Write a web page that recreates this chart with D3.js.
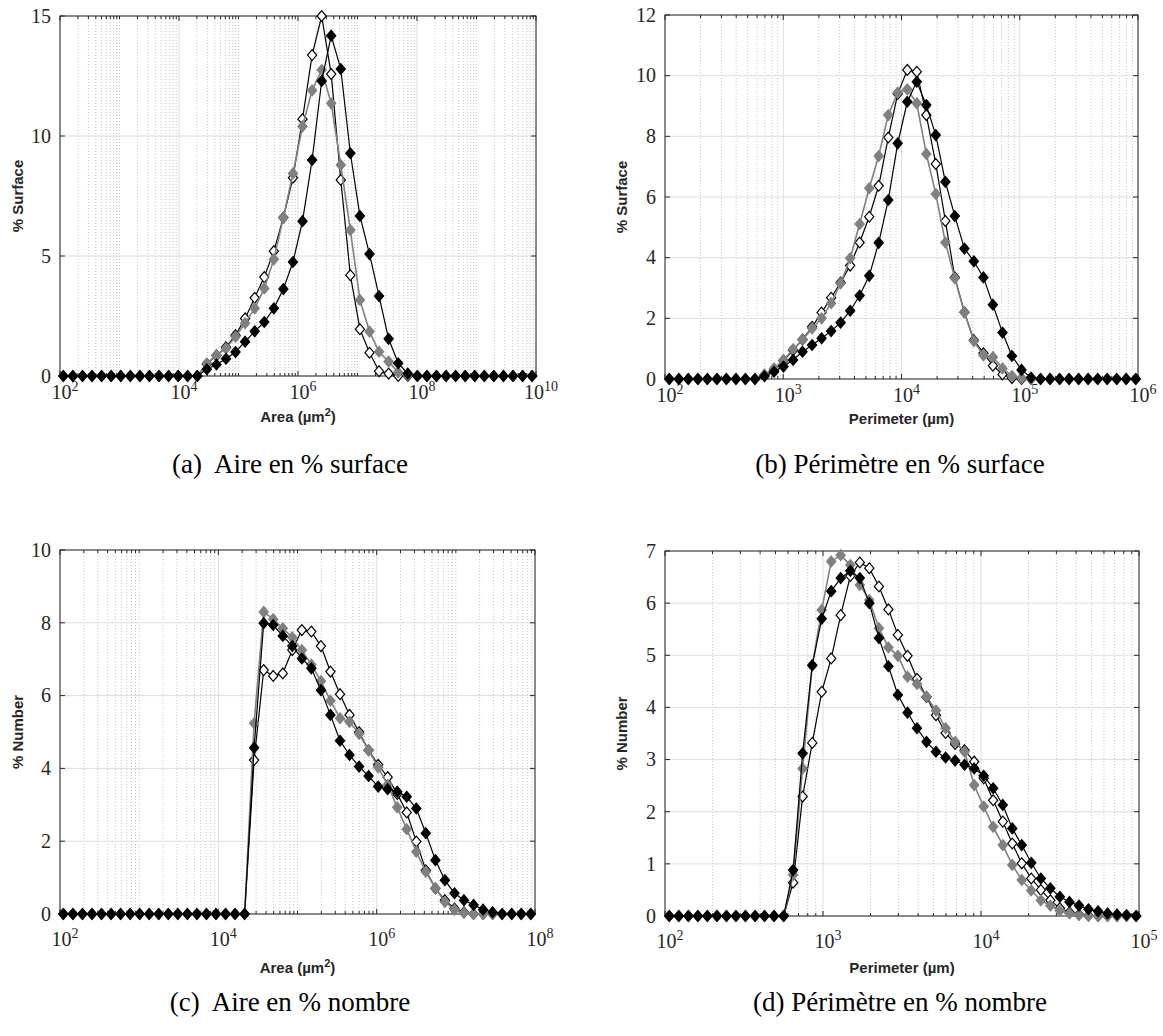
<!DOCTYPE html>
<html><head><meta charset="utf-8">
<script src="https://cdn.jsdelivr.net/npm/d3@7"></script>
<style>body{margin:0;background:#fff}</style>
</head><body>
<svg id="chart" width="1163" height="1036"></svg>
<script>
// ---------- DATA (bin centres as log10 exponents, values in %) ----------
const areaSurfBins = [2.056,2.217,2.378,2.538,2.699,2.860,3.021,3.182,3.342,3.503,3.664,3.825,3.986,4.146,4.307,4.468,4.629,4.790,4.950,5.111,5.272,5.433,5.594,5.754,5.915,6.076,6.237,6.398,6.558,6.719,6.880,7.041,7.202,7.362,7.523,7.684,7.845,8.006,8.166,8.327,8.488,8.649,8.810,8.970,9.131,9.292,9.453,9.614,9.774,9.935];
const areaSurfBlack = [0,0,0,0,0,0,0,0,0,0, 0,0,0,0,0,0.28,0.48,0.72,1.0,1.43, 1.86,2.25,2.82,3.62,4.75,6.45,9.0,12.29,14.18,12.79, 9.28,6.67,5.08,3.33,1.55,0.53,0.1,0,0,0, 0,0,0,0,0,0,0,0,0,0];
const areaSurfOpen  = [0,0,0,0,0,0,0,0,0,0, 0,0,0,0,0,0.5,0.85,1.2,1.7,2.4, 3.26,4.12,5.2,6.6,8.26,10.7,13.37,15.0,12.58,8.17, 4.2,1.95,0.97,0.2,0.1,0,0,0,0,0, 0,0,0,0,0,0,0,0,0,0];
const areaSurfGrey  = [0,0,0,0,0,0,0,0,0,0, 0,0,0,0,0,0.53,0.87,1.15,1.64,2.2, 2.82,3.65,4.86,6.6,8.44,10.4,11.9,12.75,11.36,8.79, 6.08,3.17,1.85,1.01,0.6,0.15,0.03,0,0,0, 0,0,0,0,0,0,0,0,0,0];

const periSurfBins = [2.036,2.117,2.197,2.278,2.358,2.439,2.519,2.600,2.680,2.761,2.841,2.922,3.002,3.083,3.163,3.244,3.324,3.405,3.485,3.566,3.646,3.727,3.807,3.888,3.968,4.049,4.129,4.210,4.290,4.371,4.451,4.532,4.612,4.693,4.773,4.854,4.934,5.015,5.095,5.176,5.256,5.337,5.417,5.498,5.578,5.659,5.739,5.820,5.900,5.981];
const periSurfBlack = [0,0,0,0,0,0,0,0,0,0, 0.09,0.24,0.41,0.63,0.9,1.12,1.34,1.58,1.86,2.25, 2.75,3.4,4.49,5.9,7.77,9.14,9.8,9.03,8.04,6.5, 5.37,4.3,3.88,3.35,2.45,1.53,0.76,0.3,0.05,0, 0,0,0,0,0,0,0,0,0,0];
const periSurfOpen  = [0,0,0,0,0,0,0,0,0,0, 0.12,0.3,0.6,0.95,1.3,1.72,2.19,2.68,3.18,3.74, 4.5,5.35,6.37,7.96,9.4,10.19,10.13,8.7,7.09,5.21, 3.35,2.2,1.28,0.85,0.44,0.15,0.03,0,0,0, 0,0,0,0,0,0,0,0,0,0];
const periSurfGrey  = [0,0,0,0,0,0,0,0,0,0, 0.15,0.35,0.63,0.98,1.29,1.67,2.0,2.5,3.15,3.98, 5.11,6.29,7.35,8.7,9.44,9.55,9.09,7.42,6.1,4.5, 3.32,2.2,1.25,0.78,0.72,0.35,0.1,0.03,0,0, 0,0,0,0,0,0,0,0,0,0];

const areaNumBins = [2.042,2.163,2.283,2.404,2.524,2.645,2.765,2.886,3.006,3.127,3.247,3.368,3.488,3.609,3.729,3.850,3.970,4.091,4.211,4.332,4.452,4.573,4.693,4.814,4.934,5.055,5.175,5.296,5.416,5.537,5.657,5.778,5.898,6.019,6.139,6.260,6.380,6.501,6.621,6.742,6.862,6.983,7.103,7.224,7.344,7.465,7.585,7.706,7.826,7.947];
const areaNumBlack = [0,0,0,0,0,0,0,0,0,0, 0,0,0,0,0,0,0,0,0,0, 4.57,7.99,7.94,7.64,7.36,7.02,6.75,6.15,5.47,4.76, 4.37,4.05,3.79,3.5,3.43,3.36,3.22,2.9,2.22,1.48, 0.93,0.57,0.38,0.25,0.12,0.05,0,0,0,0];
const areaNumOpen  = [0,0,0,0,0,0,0,0,0,0, 0,0,0,0,0,0,0,0,0,0, 4.23,6.7,6.54,6.61,7.25,7.8,7.76,7.36,6.66,6.04, 5.47,5.0,4.5,4.1,3.76,3.3,2.79,1.99,1.2,0.7, 0.38,0.15,0.05,0,0,0,0,0,0,0];
const areaNumGrey  = [0,0,0,0,0,0,0,0,0,0, 0,0,0,0,0,0,0,0,0,0, 5.24,8.3,8.1,7.85,7.6,7.25,6.85,6.4,5.86,5.38, 5.28,4.95,4.5,4.03,3.55,2.93,2.33,1.71,1.16,0.71, 0.33,0.12,0.03,0,0,0,0,0,0,0];

const periNumBins = [2.027,2.087,2.148,2.208,2.268,2.329,2.389,2.449,2.509,2.570,2.630,2.690,2.751,2.811,2.871,2.932,2.992,3.052,3.112,3.173,3.233,3.293,3.354,3.414,3.474,3.535,3.595,3.655,3.715,3.776,3.836,3.896,3.957,4.017,4.077,4.138,4.198,4.258,4.318,4.379,4.439,4.499,4.560,4.620,4.680,4.741,4.801,4.861,4.921,4.982];
const periNumBlack = [0,0,0,0,0,0,0,0,0,0, 0,0,0,0.88,3.12,4.81,5.7,6.23,6.48,6.62, 6.48,6.0,5.33,4.79,4.24,3.9,3.6,3.34,3.15,3.04, 2.98,2.9,2.83,2.69,2.45,2.13,1.68,1.36,1.02,0.72, 0.53,0.37,0.27,0.2,0.13,0.09,0.05,0.03,0.02,0];
const periNumOpen  = [0,0,0,0,0,0,0,0,0,0, 0,0,0,0.64,2.29,3.32,4.3,4.94,5.77,6.52, 6.78,6.67,6.32,5.88,5.39,4.99,4.55,4.2,3.85,3.51, 3.3,3.18,2.96,2.64,2.22,1.81,1.39,1.01,0.72,0.5, 0.3,0.15,0.07,0.03,0.01,0,0,0,0,0];
const periNumGrey  = [0,0,0,0,0,0,0,0,0,0, 0,0,0,0.79,2.83,4.8,5.87,6.8,6.92,6.73, 6.35,6.06,5.52,5.15,4.99,4.59,4.45,4.21,3.94,3.6, 3.34,3.15,2.51,2.1,1.71,1.36,0.98,0.69,0.49,0.3, 0.2,0.1,0.05,0.02,0,0,0,0,0,0];

const xMajorA = [2,4,6,8,10];
const xMajorB = [2,3,4,5,6];
const xMajorC = [2,4,6,8];
const xMajorD = [2,3,4,5];
const yTicksA = [0,5,10,15];
const yTicksB = [0,2,4,6,8,10,12];
const yTicksC = [0,2,4,6,8,10];
const yTicksD = [0,1,2,3,4,5,6,7];

// ---------- LAYOUT ----------
const panels = [
  {l:60, r:536, t:16, b:376, xMax:10, xMajor:xMajorA, yMax:15, yTicks:yTicksA,
   bins:areaSurfBins, black:areaSurfBlack, open:areaSurfOpen, grey:areaSurfGrey,
   xTitle:'area', yTitle:'% Surface', tickDy:23, titleDy:46, yTitleX:18,
   caption:'(a)  Aire en % surface', capX:290, capY:473},
  {l:665, r:1138, t:15, b:379, xMax:6, xMajor:xMajorB, yMax:12, yTicks:yTicksB,
   bins:periSurfBins, black:periSurfBlack, open:periSurfOpen, grey:periSurfGrey,
   xTitle:'peri', yTitle:'% Surface', tickDy:23, titleDy:45, yTitleX:622,
   caption:'(b) Périmètre en % surface', capX:900, capY:473},
  {l:60, r:535, t:550, b:914, xMax:8, xMajor:xMajorC, yMax:10, yTicks:yTicksC,
   bins:areaNumBins, black:areaNumBlack, open:areaNumOpen, grey:areaNumGrey,
   xTitle:'area', yTitle:'% Number', tickDy:32, titleDy:59, yTitleX:18,
   caption:'(c)  Aire en % nombre', capX:290, capY:1011},
  {l:665, r:1139, t:551, b:916, xMax:5, xMajor:xMajorD, yMax:7, yTicks:yTicksD,
   bins:periNumBins, black:periNumBlack, open:periNumOpen, grey:periNumGrey,
   xTitle:'peri', yTitle:'% Number', tickDy:32, titleDy:57, yTitleX:622,
   caption:'(d) Périmètre en % nombre', capX:900, capY:1011}
];

const svg = d3.select('#chart');
const serif = "'Liberation Serif','Times New Roman',serif";
const sans = "'Liberation Sans',Arial,sans-serif";
const axisCol = '#262626';
const greyCol = '#808080';

function diamond(cx, cy) {
  const w = 4.6, h = 5.4;
  return `M${cx},${cy-h}L${cx+w},${cy}L${cx},${cy+h}L${cx-w},${cy}Z`;
}

function drawPanel(p) {
  const g = svg.append('g');
  const x = d3.scaleLog().domain([1e2, Math.pow(10, p.xMax)]).range([p.l, p.r]);
  const y = d3.scaleLinear().domain([0, p.yMax]).range([p.b, p.t]);

  // minor x grid (dotted)
  const minors = [];
  for (let e = 2; e < p.xMax; e++) {
    for (let k = 1; k <= 9; k++) {
      if (k === 1 && p.xMajor.includes(e)) continue;
      minors.push(k * Math.pow(10, e));
    }
  }
  g.append('g').selectAll('line').data(minors).join('line')
    .attr('x1', d => x(d)).attr('x2', d => x(d))
    .attr('y1', p.t).attr('y2', p.b)
    .attr('stroke', '#c4c4c4').attr('stroke-width', 1)
    .attr('stroke-dasharray', '1,2');

  // major grid
  g.append('g').selectAll('line').data(p.xMajor).join('line')
    .attr('x1', d => x(Math.pow(10, d))).attr('x2', d => x(Math.pow(10, d)))
    .attr('y1', p.t).attr('y2', p.b)
    .attr('stroke', '#dedede').attr('stroke-width', 1);
  g.append('g').selectAll('line').data(p.yTicks).join('line')
    .attr('x1', p.l).attr('x2', p.r)
    .attr('y1', d => y(d)).attr('y2', d => y(d))
    .attr('stroke', '#dedede').attr('stroke-width', 1);

  // box
  g.append('rect').attr('x', p.l).attr('y', p.t)
    .attr('width', p.r - p.l).attr('height', p.b - p.t)
    .attr('fill', 'none').attr('stroke', axisCol).attr('stroke-width', 1);

  // ticks
  const tk = g.append('g').attr('stroke', axisCol).attr('stroke-width', 1);
  p.yTicks.forEach(v => {
    tk.append('line').attr('x1', p.l).attr('x2', p.l + 5).attr('y1', y(v)).attr('y2', y(v));
    tk.append('line').attr('x1', p.r - 5).attr('x2', p.r).attr('y1', y(v)).attr('y2', y(v));
  });
  p.xMajor.forEach(e => {
    const xv = x(Math.pow(10, e));
    tk.append('line').attr('x1', xv).attr('x2', xv).attr('y1', p.b).attr('y2', p.b - 5);
    tk.append('line').attr('x1', xv).attr('x2', xv).attr('y1', p.t).attr('y2', p.t + 5);
  });
  minors.forEach(v => {
    const xv = x(v);
    tk.append('line').attr('x1', xv).attr('x2', xv).attr('y1', p.b).attr('y2', p.b - 3);
    tk.append('line').attr('x1', xv).attr('x2', xv).attr('y1', p.t).attr('y2', p.t + 3);
  });

  // y tick labels
  g.append('g').selectAll('text').data(p.yTicks).join('text')
    .attr('x', p.l - 9).attr('y', d => y(d)).attr('dy', '0.34em')
    .attr('text-anchor', 'end').attr('font-family', serif).attr('font-size', 20)
    .attr('fill', axisCol).text(d => d);

  // x tick labels 10^e
  p.xMajor.forEach(e => {
    const t = g.append('text').attr('x', x(Math.pow(10, e)) + 5).attr('y', p.b + p.tickDy)
      .attr('text-anchor', 'middle').attr('font-family', serif).attr('font-size', 20)
      .attr('fill', axisCol);
    t.append('tspan').text('10');
    t.append('tspan').attr('dy', -8).attr('font-size', 14).text(e);
  });

  // axis titles
  const xt = g.append('text').attr('x', (p.l + p.r) / 2).attr('y', p.b + p.titleDy)
    .attr('text-anchor', 'middle').attr('font-family', sans).attr('font-weight', 'bold')
    .attr('font-size', 15).attr('fill', axisCol);
  if (p.xTitle === 'area') {
    xt.append('tspan').text('Area (µm');
    xt.append('tspan').attr('dy', -6).attr('font-size', 11).text('2');
    xt.append('tspan').attr('dy', 6).text(')');
  } else {
    xt.text('Perimeter (µm)');
  }
  g.append('text')
    .attr('transform', `translate(${p.yTitleX},${(p.t + p.b) / 2}) rotate(-90)`)
    .attr('dy', '0.35em')
    .attr('text-anchor', 'middle').attr('font-family', sans).attr('font-weight', 'bold')
    .attr('font-size', 15).attr('fill', axisCol).text(p.yTitle);

  // series
  const series = [
    {vals: p.open, line: '#000', fill: '#fff', stroke: '#000', lw: 1.2},
    {vals: p.grey, line: greyCol, fill: greyCol, stroke: greyCol, lw: 1.6},
    {vals: p.black, line: '#000', fill: '#000', stroke: '#000', lw: 1.2}
  ];
  series.forEach(s => {
    const pts = p.bins.map((e, i) => [x(Math.pow(10, e)), y(s.vals[i])]);
    g.append('path').attr('d', d3.line()(pts))
      .attr('fill', 'none').attr('stroke', s.line).attr('stroke-width', s.lw);
    g.append('g').selectAll('path').data(pts).join('path')
      .attr('d', d => diamond(d[0], d[1]))
      .attr('fill', s.fill).attr('stroke', s.stroke).attr('stroke-width', 1.2);
  });

  // caption
  svg.append('text').attr('x', p.capX).attr('y', p.capY)
    .attr('text-anchor', 'middle').attr('font-family', serif).attr('font-size', 27)
    .attr('fill', '#000').attr('xml:space', 'preserve').style('white-space', 'pre')
    .text(p.caption);
}

panels.forEach(drawPanel);
</script>
</body></html>
